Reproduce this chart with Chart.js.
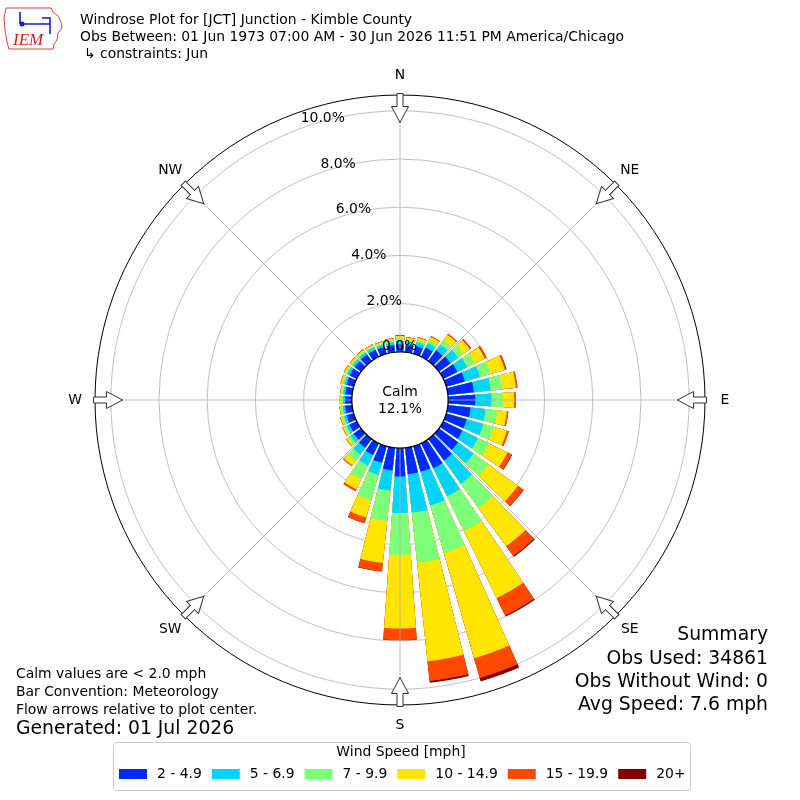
<!DOCTYPE html>
<html>
<head>
<meta charset="utf-8">
<script src="https://cdn.jsdelivr.net/npm/chart.js@4.4.1/dist/chart.umd.min.js"></script>
<style>
  html, body { margin: 0; padding: 0; background: #fff; }
  #wrap { width: 800px; height: 800px; }
</style>
</head>
<body>
<div id="wrap"><canvas id="rose" width="800" height="800"></canvas></div>
<script>
// direction bins (degrees, meteorological)
const directions = [0, 10, 20, 30, 40, 50, 60, 70, 80, 90, 100, 110, 120, 130, 140, 150, 160, 170,
                    180, 190, 200, 210, 220, 230, 240, 250, 260, 270, 280, 290, 300, 310, 320, 330, 340, 350];
const speedBins = ['2 - 4.9', '5 - 6.9', '7 - 9.9', '10 - 14.9', '15 - 19.9', '20+'];
const binColors = ['#0028ff', '#00d4ff', '#7dff7a', '#ffe500', '#ff4800', '#800000'];

// percent of obs per direction, one list per speed bin
const speed2to5   = [0.31, 0.30, 0.34, 0.42, 0.55, 0.60, 0.65, 0.80, 1.08, 1.12, 0.95, 0.88, 0.88, 0.98, 1.10, 1.15, 1.10, 1.10,
                     1.17, 0.94, 0.71, 0.54, 0.45, 0.38, 0.34, 0.31, 0.29, 0.28, 0.28, 0.31, 0.33, 0.32, 0.33, 0.32, 0.30, 0.30];
const speed5to7   = [0.14, 0.13, 0.15, 0.20, 0.30, 0.38, 0.45, 0.65, 0.70, 0.68, 0.62, 0.72, 0.72, 0.80, 1.20, 1.30, 1.45, 1.60,
                     1.52, 0.84, 0.52, 0.48, 0.35, 0.16, 0.13, 0.11, 0.10, 0.09, 0.09, 0.10, 0.11, 0.11, 0.11, 0.11, 0.10, 0.11];
const speed7to10  = [0.10, 0.09, 0.10, 0.14, 0.22, 0.27, 0.35, 0.45, 0.49, 0.46, 0.48, 0.44, 0.52, 0.75, 1.25, 1.60, 2.05, 2.10,
                     1.74, 1.27, 1.10, 0.64, 0.32, 0.12, 0.09, 0.08, 0.07, 0.06, 0.06, 0.07, 0.07, 0.07, 0.07, 0.07, 0.07, 0.08];
const speed10to15 = [0.11, 0.08, 0.10, 0.15, 0.28, 0.33, 0.47, 0.62, 0.57, 0.48, 0.41, 0.58, 0.84, 1.52, 1.95, 3.10, 4.55, 4.10,
                     3.05, 1.75, 0.74, 0.46, 0.24, 0.10, 0.08, 0.07, 0.06, 0.06, 0.06, 0.07, 0.07, 0.07, 0.07, 0.06, 0.06, 0.07];
const speed15to20 = [0.03, 0.02, 0.03, 0.04, 0.05, 0.06, 0.07, 0.07, 0.06, 0.06, 0.06, 0.08, 0.20, 0.28, 0.50, 0.80, 0.85, 0.83,
                     0.48, 0.35, 0.25, 0.08, 0.04, 0.02, 0.02, 0.02, 0.01, 0.01, 0.01, 0.02, 0.02, 0.02, 0.02, 0.02, 0.02, 0.02];
const speed20up   = [0.01, 0.00, 0.00, 0.00, 0.00, 0.01, 0.01, 0.01, 0.00, 0.00, 0.00, 0.00, 0.02, 0.02, 0.05, 0.05, 0.15, 0.07,
                     0.01, 0.01, 0.00, 0.00, 0.00, 0.00, 0.00, 0.00, 0.00, 0.00, 0.00, 0.00, 0.00, 0.00, 0.00, 0.00, 0.00, 0.00];

const rTicks = [0, 2, 4, 6, 8, 10];
const calmPct = 12.1;
const compass = ['N', 'NE', 'E', 'SE', 'S', 'SW', 'W', 'NW'];

const FONT = '"DejaVu Sans", Verdana, sans-serif';

// stack the bins: each dataset holds the running total, smallest drawn on top
const series = [speed2to5, speed5to7, speed7to10, speed10to15, speed15to20, speed20up];
const cumulative = [];
series.forEach((s, i) => {
  cumulative.push(s.map((v, k) => v + (i ? cumulative[i - 1][k] : 0)));
});
const totals = cumulative[cumulative.length - 1];
const rMax = Math.max(...totals) * 1.05;

// every direction gets a bar slot (8 deg) followed by an empty gap slot (2 deg)
const labels = [];
directions.forEach(d => { labels.push(d + '°'); labels.push(''); });

const datasets = cumulative.map((c, i) => ({
  label: speedBins[i],
  data: c.flatMap(v => [v, 0]),
  backgroundColor: ctx => (ctx.dataIndex % 2 ? 'rgba(0,0,0,0)' : binColors[i]),
  borderWidth: 0,
  angle: ctx => (ctx.dataIndex % 2 ? 2 : 8)
}));

function arrowAt(ctx, cx, cy, deg, rTail) {
  ctx.save();
  ctx.translate(cx, cy);
  ctx.rotate(deg * Math.PI / 180);
  ctx.beginPath();
  ctx.moveTo(-3, -rTail);
  ctx.lineTo(3, -rTail);
  ctx.lineTo(3, -rTail + 13);
  ctx.lineTo(8.5, -rTail + 13);
  ctx.lineTo(0, -rTail + 29);
  ctx.lineTo(-8.5, -rTail + 13);
  ctx.lineTo(-3, -rTail + 13);
  ctx.closePath();
  ctx.fillStyle = '#fff';
  ctx.fill();
  ctx.strokeStyle = '#333';
  ctx.lineWidth = 1;
  ctx.stroke();
  ctx.restore();
}

function drawLogo(ctx) {
  ctx.save();
  ctx.strokeStyle = '#e04040';
  ctx.lineWidth = 1;
  ctx.beginPath();
  ctx.moveTo(6, 8); ctx.lineTo(51, 8); ctx.lineTo(53, 12); ctx.lineTo(58, 16); ctx.lineTo(61, 22);
  ctx.lineTo(62, 28); ctx.lineTo(58, 33); ctx.lineTo(57, 40); ctx.lineTo(54, 44); ctx.lineTo(53, 49);
  ctx.lineTo(9, 49); ctx.lineTo(7, 42); ctx.lineTo(5, 30); ctx.lineTo(4, 18); ctx.closePath();
  ctx.stroke();
  ctx.strokeStyle = '#1020d0';
  ctx.fillStyle = '#1020d0';
  ctx.lineWidth = 1.6;
  ctx.beginPath();
  ctx.moveTo(22, 24); ctx.lineTo(50, 24);
  ctx.moveTo(42, 18); ctx.lineTo(50, 18); ctx.lineTo(50, 24);
  ctx.moveTo(50, 24); ctx.lineTo(50, 34);
  ctx.moveTo(20, 12); ctx.lineTo(20, 24);
  ctx.stroke();
  ctx.beginPath(); ctx.arc(22, 24, 2.5, 0, Math.PI * 2); ctx.fill();
  ctx.fillStyle = '#d02020';
  ctx.font = 'italic 17px "Liberation Serif", serif';
  ctx.textAlign = 'left';
  ctx.textBaseline = 'alphabetic';
  ctx.fillText('IEM', 13, 45);
  ctx.restore();
}

const roseDecor = {
  id: 'roseDecor',
  afterDatasetsDraw(chart) {
    const s = chart.scales.r;
    const ctx = chart.ctx;
    ctx.save();
    ctx.strokeStyle = '#b0b0b0';
    ctx.lineWidth = 0.8;
    for (let a = 0; a < 360; a += 45) {
      const t = a * Math.PI / 180;
      ctx.beginPath();
      ctx.moveTo(s.xCenter, s.yCenter);
      ctx.lineTo(s.xCenter + s.drawingArea * Math.sin(t), s.yCenter - s.drawingArea * Math.cos(t));
      ctx.stroke();
    }
    ctx.restore();
  },
  afterDraw(chart) {
    const s = chart.scales.r;
    const ctx = chart.ctx;
    const cx = s.xCenter, cy = s.yCenter, R = s.drawingArea;
    ctx.save();

    // outer frame
    ctx.strokeStyle = '#000';
    ctx.lineWidth = 1;
    ctx.beginPath();
    ctx.arc(cx, cy, R, 0, Math.PI * 2);
    ctx.stroke();

    // calm circle
    const r0 = s.getDistanceFromCenterForValue(0);
    ctx.beginPath();
    ctx.arc(cx, cy, r0, 0, Math.PI * 2);
    ctx.fillStyle = '#fff';
    ctx.fill();
    ctx.lineWidth = 1.3;
    ctx.strokeStyle = '#000';
    ctx.stroke();
    ctx.fillStyle = '#000';
    ctx.font = '13.9px ' + FONT;
    ctx.textAlign = 'center';
    ctx.textBaseline = 'middle';
    ctx.fillText('Calm', cx, cy - 8);
    ctx.fillText(calmPct.toFixed(1) + '%', cx, cy + 9);

    // compass arrows and labels
    compass.forEach((name, i) => {
      const deg = i * 45;
      arrowAt(ctx, cx, cy, deg, R + 1.5);
      const t = deg * Math.PI / 180;
      ctx.fillStyle = '#000';
      ctx.fillText(name, cx + (R + 20) * Math.sin(t), cy - (R + 20) * Math.cos(t));
    });

    // radial tick labels
    const la = 18.6 * Math.PI / 180;
    rTicks.forEach(v => {
      const r = s.getDistanceFromCenterForValue(v);
      ctx.fillText(v.toFixed(1) + '%', cx - r * Math.sin(la) + 15, cy - r * Math.cos(la) - 7.5);
    });

    // header
    drawLogo(ctx);
    ctx.fillStyle = '#000';
    ctx.textAlign = 'left';
    ctx.font = '13.9px ' + FONT;
    ctx.fillText('Windrose Plot for [JCT] Junction - Kimble County', 80, 20);
    ctx.fillText('Obs Between: 01 Jun 1973 07:00 AM - 30 Jun 2026 11:51 PM America/Chicago', 80, 37);
    ctx.fillText('↳ constraints: Jun', 84, 54);

    // notes bottom left
    ctx.fillText('Calm values are < 2.0 mph', 16, 674);
    ctx.fillText('Bar Convention: Meteorology', 16, 692);
    ctx.fillText('Flow arrows relative to plot center.', 16, 710);
    ctx.font = '18.8px ' + FONT;
    ctx.fillText('Generated: 01 Jul 2026', 16, 729);

    // summary bottom right
    ctx.textAlign = 'right';
    ctx.fillText('Summary', 768, 635);
    ctx.fillText('Obs Used: 34861', 768, 659);
    ctx.fillText('Obs Without Wind: 0', 768, 682);
    ctx.fillText('Avg Speed: 7.6 mph', 768, 705);

    // legend
    ctx.beginPath();
    ctx.roundRect(113.5, 742.5, 577, 48, 3);
    ctx.fillStyle = '#fff';
    ctx.fill();
    ctx.strokeStyle = '#cccccc';
    ctx.lineWidth = 1;
    ctx.stroke();
    ctx.fillStyle = '#000';
    ctx.font = '13.9px ' + FONT;
    ctx.textAlign = 'center';
    ctx.fillText('Wind Speed [mph]', 401, 752);
    ctx.textAlign = 'left';
    let x = 119;
    chart.data.datasets.forEach((ds, i) => {
      ctx.fillStyle = binColors[i];
      ctx.fillRect(x, 769, 28, 10);
      ctx.fillStyle = '#000';
      ctx.fillText(ds.label, x + 38, 774);
      x += 38 + ctx.measureText(ds.label).width + 10;
    });
    ctx.restore();
  }
};

new Chart(document.getElementById('rose'), {
  type: 'polarArea',
  data: { labels: labels, datasets: datasets },
  options: {
    responsive: false,
    animation: false,
    events: [],
    layout: { padding: { left: 95, right: 95, top: 95, bottom: 95 } },
    plugins: {
      legend: { display: false },
      tooltip: { enabled: false }
    },
    scales: {
      r: {
        min: -2,
        max: rMax,
        startAngle: -4,
        afterBuildTicks: scale => {
          scale.ticks = rTicks.map(v => ({ value: v }));
        },
        ticks: { display: false, z: 1 },
        grid: { circular: true, color: '#b0b0b0', lineWidth: 0.8 },
        angleLines: { display: false },
        pointLabels: { display: false }
      }
    }
  },
  plugins: [roseDecor]
});
</script>
</body>
</html>
